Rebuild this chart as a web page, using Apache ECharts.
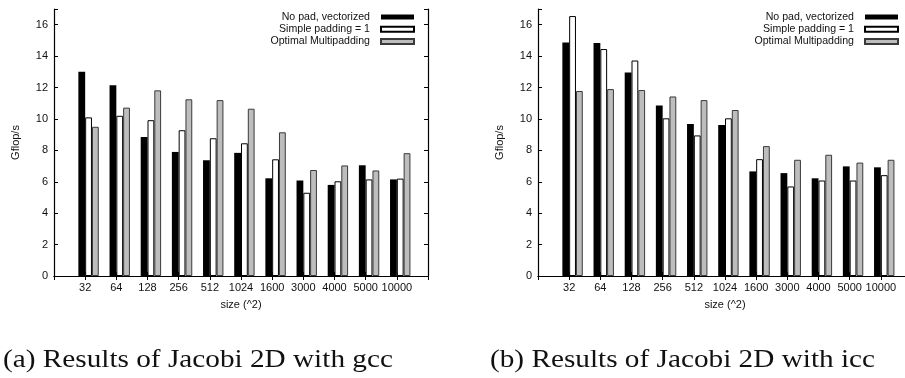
<!DOCTYPE html>
<html>
<head>
<meta charset="utf-8">
<script src="https://cdn.jsdelivr.net/npm/echarts@6/dist/echarts.min.js"></script>
<style>
  html, body { margin: 0; padding: 0; background: #fff; }
  #chart { width: 905px; height: 378px; }
</style>
</head>
<body>
<div id="chart"></div>
<script>
// problem sizes (matrix side, squared)
const sizes = ['32', '64', '128', '256', '512', '1024', '1600', '3000', '4000', '5000', '10000']
const seriesNames = ['No pad, vectorized', 'Simple padding = 1', 'Optimal Multipadding']
const yTicks = [0, 2, 4, 6, 8, 10, 12, 14, 16]

// Gflop/s, gcc
const gccNoPad = [13.0, 12.15, 8.85, 7.9, 7.37, 7.84, 6.22, 6.08, 5.8, 7.05, 6.15]
const gccSimple = [10.1, 10.2, 9.92, 9.28, 8.77, 8.45, 7.43, 5.3, 6.03, 6.15, 6.2]
const gccOptimal = [9.5, 10.72, 11.82, 11.25, 11.2, 10.65, 9.15, 6.75, 7.04, 6.72, 7.82]

// Gflop/s, icc
const iccNoPad = [14.86, 14.84, 12.95, 10.85, 9.68, 9.62, 6.66, 6.55, 6.22, 6.98, 6.92]
const iccSimple = [16.55, 14.45, 13.72, 10.04, 8.95, 10.04, 7.44, 5.7, 6.08, 6.08, 6.42]
const iccOptimal = [11.78, 11.9, 11.84, 11.43, 11.2, 10.57, 8.27, 7.4, 7.72, 7.22, 7.4]

const captions = ['(a) Results of Jacobi 2D with gcc', '(b) Results of Jacobi 2D with icc']

const sans = 'Liberation Sans'
const barStyles = [
  { color: '#000', borderColor: '#000', borderWidth: 0 },
  { color: '#fff', borderColor: '#000', borderWidth: 1 },
  { color: '#bdbdbd', borderColor: '#3a3a3a', borderWidth: 1 }
]

// one empty slot each side so the clusters sit on 1..11 of a 0..12 range, like gnuplot
const padded = ['', ...sizes, '']
const pad = arr => [null, ...arr, null]

const grids = [
  { left: 54, top: 9, width: 374, height: 267, outerBoundsMode: 'none' },
  { left: 538, top: 9, width: 374, height: 267, outerBoundsMode: 'none' }
]
const panelData = [
  [gccNoPad, gccSimple, gccOptimal],
  [iccNoPad, iccSimple, iccOptimal]
]
const legendRight = [490, 6]
const captionX = [3, 490]

const axisLine = { show: true, lineStyle: { color: '#000', width: 1.2 } }
const inTick = { show: true, inside: true, length: 4, lineStyle: { color: '#000', width: 1 } }

const xAxis = []
const yAxis = []
const series = []
const legend = []

grids.forEach((g, i) => {
  xAxis.push({
    gridIndex: i, type: 'category', data: padded, boundaryGap: false,
    name: 'size (^2)', nameLocation: 'middle', nameGap: 23,
    nameTextStyle: { fontFamily: sans, fontSize: 11, color: '#111' },
    axisLine, axisTick: { ...inTick, interval: 0 },
    axisLabel: { interval: 0, margin: 6, fontFamily: sans, fontSize: 11, color: '#111' },
    splitLine: { show: false }
  })
  xAxis.push({
    gridIndex: i, type: 'category', data: padded, boundaryGap: false, position: 'top',
    axisLine, axisTick: { ...inTick, interval: 0 }, axisLabel: { show: false }, splitLine: { show: false }
  })
  yAxis.push({
    gridIndex: i, type: 'value', min: 0, max: 17, interval: 2,
    name: 'Gflop/s', nameLocation: 'middle', nameGap: 33,
    nameTextStyle: { fontFamily: sans, fontSize: 11, color: '#111' },
    axisLine, axisTick: inTick,
    axisLabel: { margin: 6, fontFamily: sans, fontSize: 11, color: '#111',
      formatter: v => yTicks.includes(v) ? String(v) : '' },
    splitLine: { show: false }
  })
  yAxis.push({
    gridIndex: i, type: 'value', min: 0, max: 17, interval: 2, position: 'right',
    axisLine, axisTick: inTick, axisLabel: { show: false }, splitLine: { show: false }
  })

  // empty spacer bar: pushes each cluster half a slot to the right of its tick
  series.push({
    type: 'bar', name: '', xAxisIndex: i * 2, yAxisIndex: i * 2,
    data: pad(sizes.map(() => null)), barWidth: 6.8, barGap: '0%', silent: true
  })
  panelData[i].forEach((vals, k) => {
    series.push({
      type: 'bar', name: seriesNames[k], xAxisIndex: i * 2, yAxisIndex: i * 2,
      data: pad(vals), barWidth: 6.8, barGap: '0%', z: 3,
      itemStyle: barStyles[k]
    })
  })

  legend.push({
    data: seriesNames, orient: 'vertical', align: 'right',
    right: legendRight[i], top: 11, padding: 0, itemGap: 0,
    itemWidth: 33, itemHeight: 5, icon: 'rect',
    textStyle: { fontFamily: sans, fontSize: 10.6, color: '#111', lineHeight: 12.2, padding: [0, 6, 0, 0] }
  })
})

const chart = echarts.init(document.getElementById('chart'), null, { renderer: 'canvas' })
chart.setOption({
  animation: false,
  backgroundColor: '#fff',
  grid: grids,
  xAxis,
  yAxis,
  series,
  legend,
  // captions under the panels; stretched a bit to the width of the LaTeX serif
  graphic: captions.map((t, i) => ({
    type: 'text', x: captionX[i], y: 360, scaleX: 1.17,
    style: { text: t, font: '25px "Liberation Serif"', fill: '#111', verticalAlign: 'middle' }
  }))
})
</script>
</body>
</html>
